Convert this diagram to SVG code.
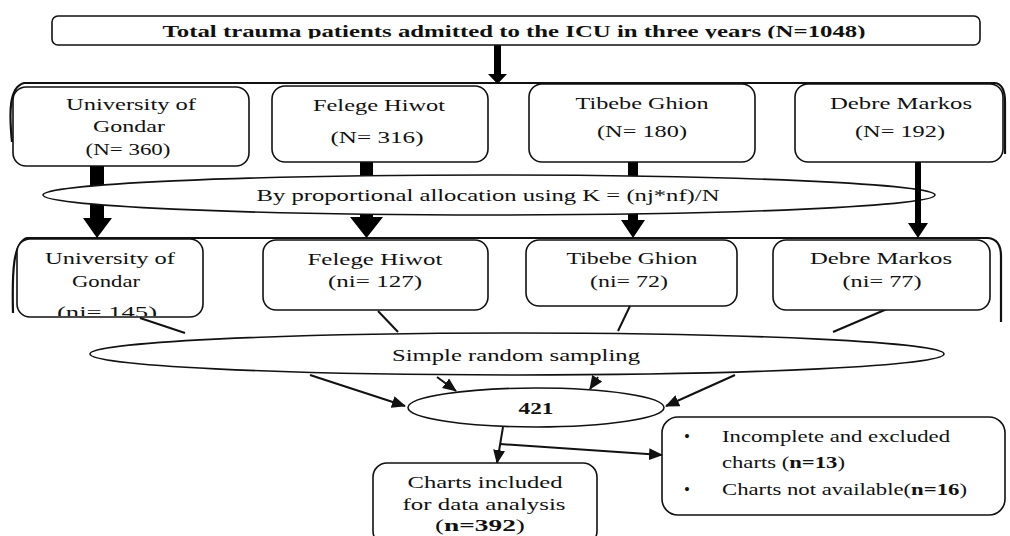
<svg xmlns="http://www.w3.org/2000/svg" width="1010" height="536" viewBox="0 0 1010 536">
<style>
  text { font-family: "Liberation Serif", "Times New Roman", serif; font-size: 17px; fill: #111; }
  .c { text-anchor: middle; }
  .b { font-weight: bold; }
  .box { fill: #fff; stroke: #111; stroke-width: 1.6; }
  .frame { fill: none; stroke: #111; stroke-width: 2.2; }
  .thick { fill: #000; stroke: none; }
  .thin { fill: none; stroke: #111; stroke-width: 2; }
  .arr { marker-end: url(#ah); }
</style>
<defs>
  <marker id="ah" markerUnits="userSpaceOnUse" markerWidth="14" markerHeight="12" viewBox="0 0 14 12" refX="13" refY="6" orient="auto">
    <path d="M0,0 L14,6 L0,12 Z" fill="#111"/>
  </marker>
  <clipPath id="clipTitle"><rect x="0" y="0" width="1010" height="38.5"/></clipPath>
  <clipPath id="clipUoG2"><rect x="0" y="0" width="1010" height="316"/></clipPath>
</defs>
<rect width="1010" height="536" fill="#fff"/>

<g id="frames">
  <path class="frame" d="M12,142 C9,112 9,87 24,83 L995,83 C1003,84 1005,92 1005,102 L1005,154"/>
  <path class="frame" d="M13,313 C12,272 13,242 27,238 L988,238 C998,239 1001,246 1001,256 L1001,322"/>
</g>

<g id="connectors">
  <polygon class="thick" points="494,45 501,45 501,74 507,74 497.5,84 488,74 494,74"/>
  <polygon class="thick" points="90,166 104,166 104,218 112,218 97,238 83,218 90,218"/>
  <polygon class="thick" points="360,162 373,162 373,217 383,217 366.5,238 350,217 360,217"/>
  <polygon class="thick" points="628,162 638,162 638,220 645,220 633,238 621,220 628,220"/>
  <line class="thin" x1="140" y1="318" x2="185" y2="333"/>
  <line class="thin" x1="378" y1="311" x2="398" y2="332"/>
  <line class="thin" x1="630" y1="306" x2="618" y2="331"/>
  <line class="thin" x1="887" y1="309" x2="833" y2="332"/>
</g>

<g id="node-total">
  <rect class="box" x="52" y="16" width="928" height="29" rx="6"/>
  <text class="c b" x="514" y="37" textLength="703" lengthAdjust="spacingAndGlyphs" clip-path="url(#clipTitle)">Total trauma patients admitted to the ICU in three years (N=1048)</text>
</g>

<g id="node-uog">
  <rect class="box" x="13" y="87" width="236" height="79" rx="13"/>
  <text class="c" x="131" y="110" textLength="130" lengthAdjust="spacingAndGlyphs">University of</text>
  <text class="c" x="129" y="132" textLength="72" lengthAdjust="spacingAndGlyphs">Gondar</text>
  <text class="c" x="128" y="155" textLength="85" lengthAdjust="spacingAndGlyphs">(N= 360)</text>
</g>
<g id="node-felege">
  <rect class="box" x="272" y="86" width="216" height="76" rx="13"/>
  <text class="c" x="379" y="111" textLength="132" lengthAdjust="spacingAndGlyphs">Felege Hiwot</text>
  <text class="c" x="377" y="143" textLength="93" lengthAdjust="spacingAndGlyphs">(N= 316)</text>
</g>
<g id="node-tibebe">
  <rect class="box" x="529" y="84" width="226" height="78" rx="13"/>
  <text class="c" x="642" y="109" textLength="133" lengthAdjust="spacingAndGlyphs">Tibebe Ghion</text>
  <text class="c" x="642" y="137" textLength="90" lengthAdjust="spacingAndGlyphs">(N= 180)</text>
</g>
<g id="node-debre">
  <rect class="box" x="795" y="84" width="208" height="78" rx="13"/>
  <text class="c" x="901" y="109" textLength="142" lengthAdjust="spacingAndGlyphs">Debre Markos</text>
  <text class="c" x="900" y="137" textLength="90" lengthAdjust="spacingAndGlyphs">(N= 192)</text>
</g>

<g id="node-allocation">
  <ellipse class="box" cx="489" cy="195" rx="446" ry="20"/>
  <text class="c" x="488" y="201" textLength="463" lengthAdjust="spacingAndGlyphs">By proportional allocation using K = (nj*nf)/N</text>
</g>
<g id="connector-debre">
  <polygon class="thick" points="915,162 921,162 921,223 928,223 918,238 908,223 915,223"/>
</g>

<g id="node-uog2">
  <rect class="box" x="17" y="239" width="186" height="78" rx="13"/>
  <text class="c" x="110" y="264" textLength="130" lengthAdjust="spacingAndGlyphs">University of</text>
  <text class="c" x="106" y="287" textLength="68" lengthAdjust="spacingAndGlyphs">Gondar</text>
  <text class="c" x="107" y="318" textLength="100" lengthAdjust="spacingAndGlyphs" clip-path="url(#clipUoG2)">(ni= 145)</text>
</g>
<g id="node-felege2">
  <rect class="box" x="263" y="240" width="225" height="70" rx="13"/>
  <text class="c" x="375" y="265" textLength="135" lengthAdjust="spacingAndGlyphs">Felege Hiwot</text>
  <text class="c" x="375" y="287" textLength="94" lengthAdjust="spacingAndGlyphs">(ni= 127)</text>
</g>
<g id="node-tibebe2">
  <rect class="box" x="526" y="240" width="211" height="66" rx="13"/>
  <text class="c" x="632" y="264" textLength="131" lengthAdjust="spacingAndGlyphs">Tibebe Ghion</text>
  <text class="c" x="629" y="287" textLength="78" lengthAdjust="spacingAndGlyphs">(ni= 72)</text>
</g>
<g id="node-debre2">
  <rect class="box" x="773" y="240" width="217" height="70" rx="13"/>
  <text class="c" x="881" y="264" textLength="142" lengthAdjust="spacingAndGlyphs">Debre Markos</text>
  <text class="c" x="882" y="287" textLength="79" lengthAdjust="spacingAndGlyphs">(ni= 77)</text>
</g>

<g id="node-srs">
  <ellipse class="box" cx="517" cy="354" rx="427" ry="21"/>
  <text class="c" x="516" y="361" textLength="248" lengthAdjust="spacingAndGlyphs">Simple random sampling</text>
</g>

<g id="connectors-lower">
  <line class="thin arr" x1="310" y1="375" x2="405" y2="406"/>
  <line class="thin arr" x1="437" y1="377" x2="456" y2="391"/>
  <line class="thin arr" x1="598" y1="377" x2="590" y2="389"/>
  <line class="thin arr" x1="735" y1="375" x2="666" y2="406"/>
  <line class="thin arr" x1="503" y1="427" x2="497" y2="463"/>
  <line class="thin arr" x1="500" y1="444" x2="662" y2="455"/>
</g>

<g id="node-421">
  <ellipse class="box" cx="536" cy="407.5" rx="128" ry="19.5"/>
  <text class="c b" x="536" y="414" textLength="35" lengthAdjust="spacingAndGlyphs">421</text>
</g>

<g id="node-included">
  <rect class="box" x="373" y="463" width="224" height="82" rx="14"/>
  <text class="c" x="485" y="488" textLength="155" lengthAdjust="spacingAndGlyphs">Charts included</text>
  <text class="c" x="484" y="510" textLength="163" lengthAdjust="spacingAndGlyphs">for data analysis</text>
  <text class="c" x="480" y="531" textLength="90" lengthAdjust="spacingAndGlyphs">(<tspan class="b">n=392</tspan>)</text>
</g>

<g id="node-excluded">
  <rect class="box" x="662" y="417" width="343" height="98" rx="16"/>
  <text x="684" y="442">•</text>
  <text x="722" y="442" textLength="228" lengthAdjust="spacingAndGlyphs">Incomplete and excluded</text>
  <text x="722" y="468" textLength="123" lengthAdjust="spacingAndGlyphs">charts (<tspan class="b">n=13</tspan>)</text>
  <text x="684" y="495">•</text>
  <text x="722" y="495" textLength="245" lengthAdjust="spacingAndGlyphs">Charts not available(<tspan class="b">n=16</tspan>)</text>
</g>
</svg>
